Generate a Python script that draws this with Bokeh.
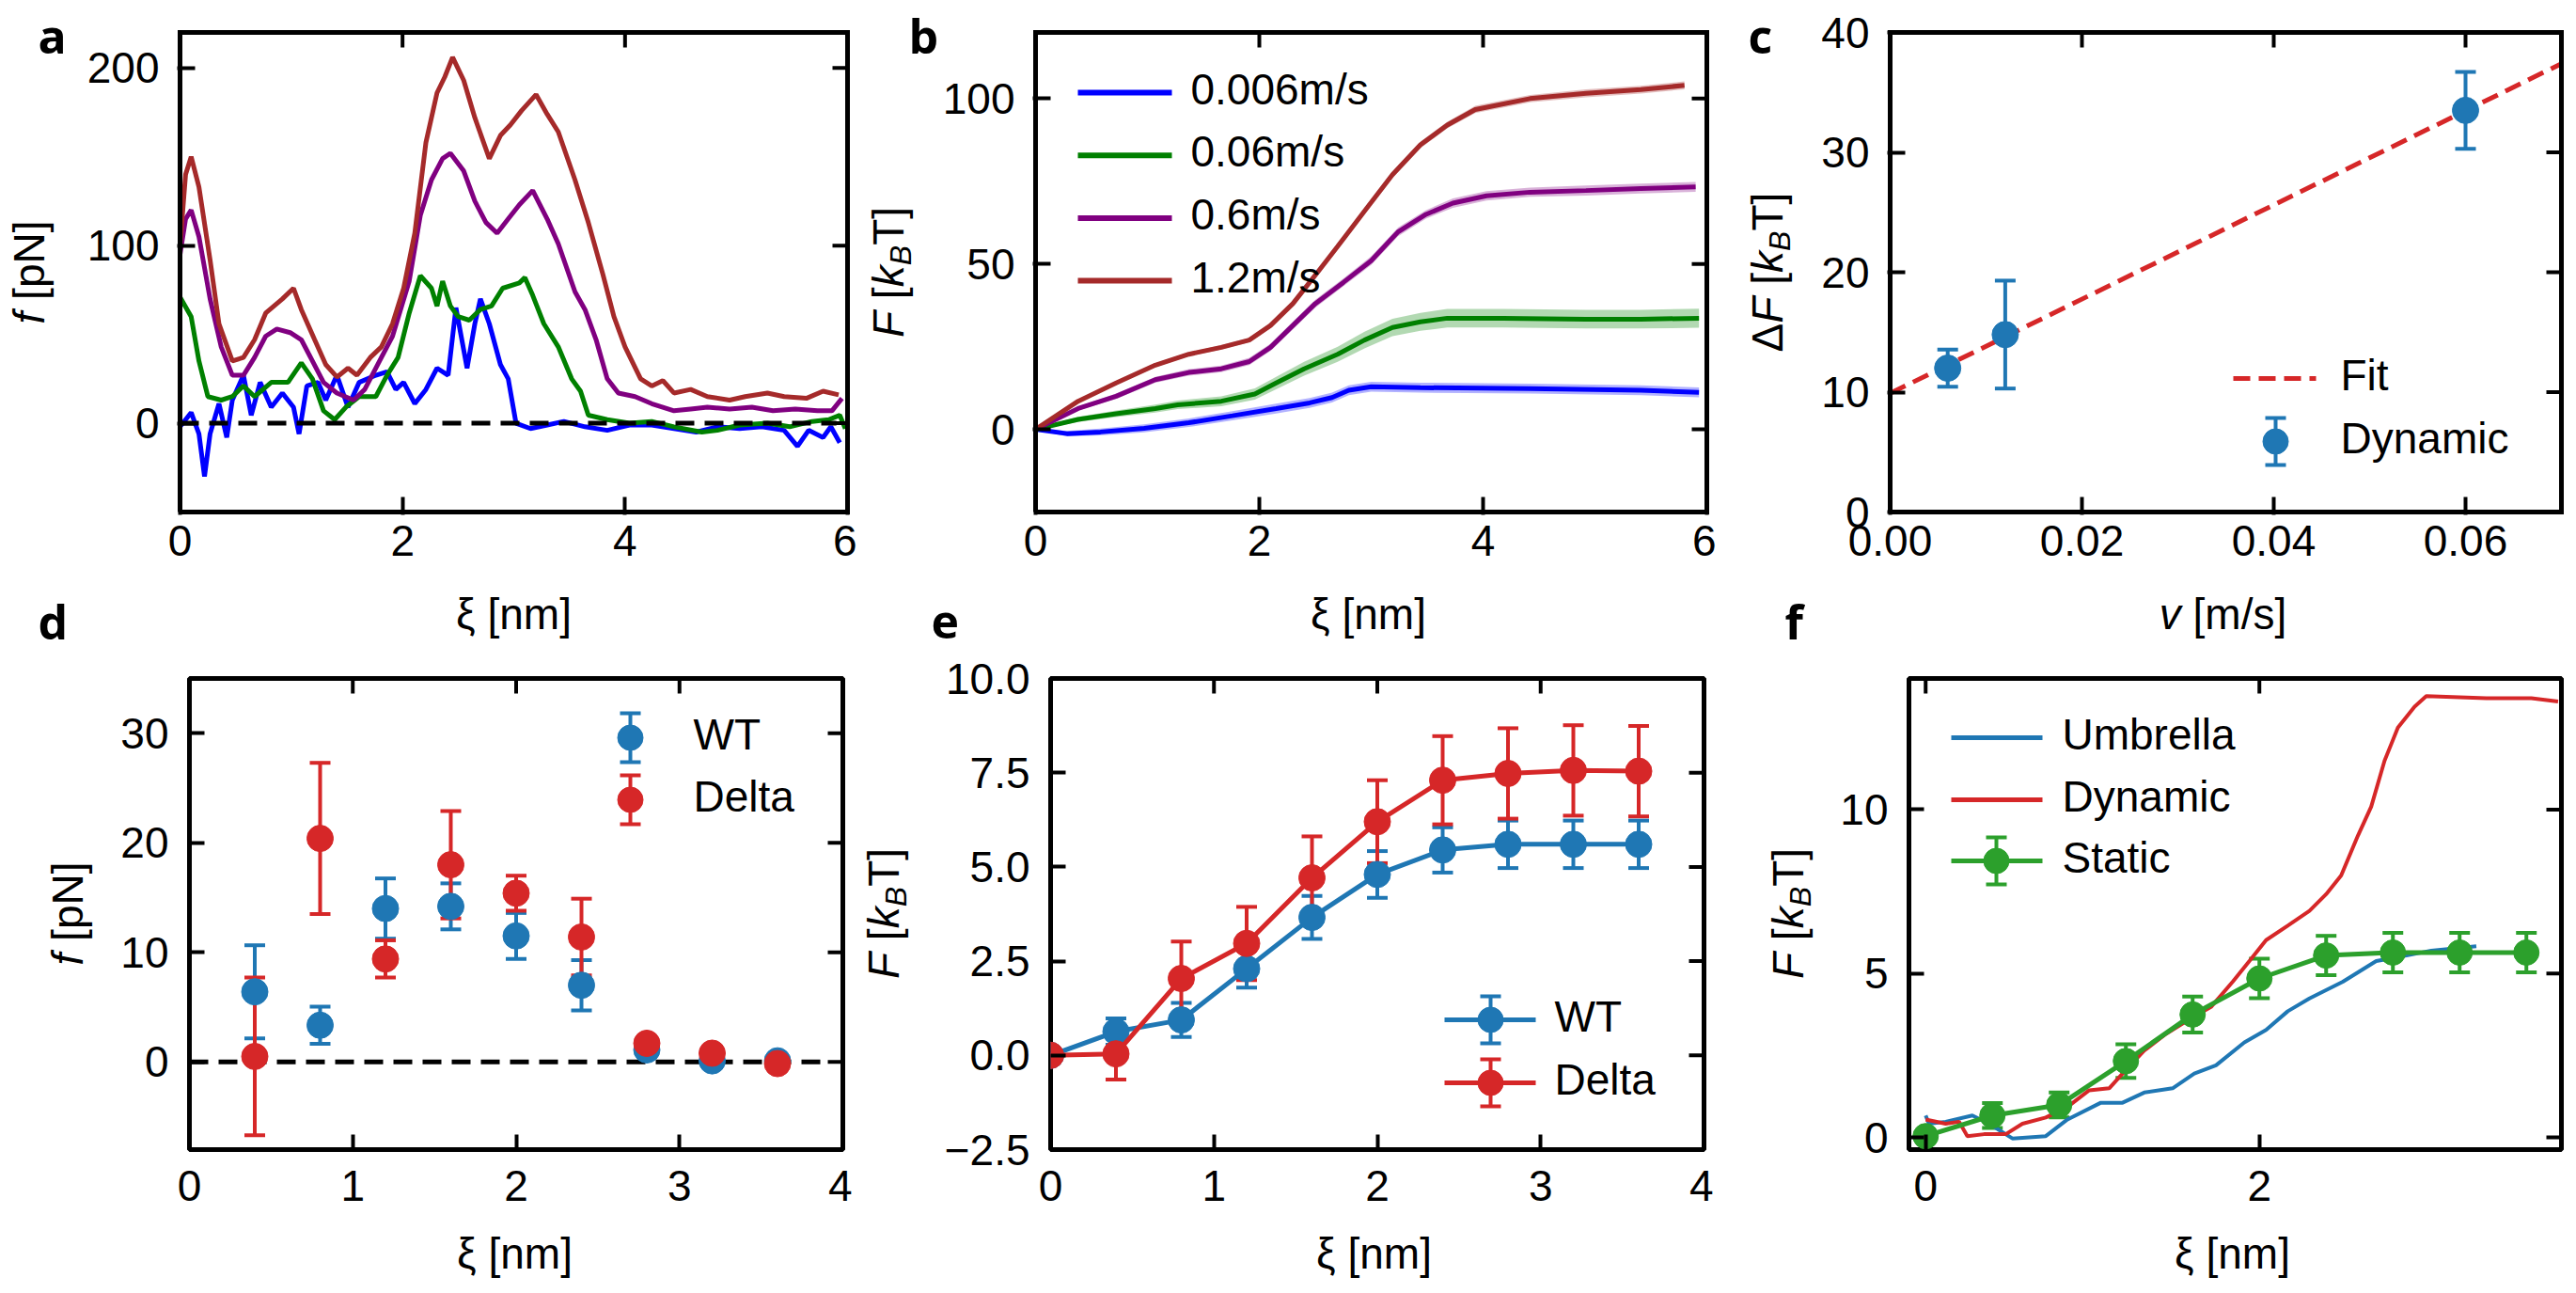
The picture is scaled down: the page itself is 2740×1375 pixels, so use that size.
import numpy as np
from bokeh.plotting import figure
from bokeh.models import (Range1d, FixedTicker, LinearAxis, Label, Whisker, TeeHead,
                          ColumnDataSource)
from bokeh.layouts import row, column
from bokeh.embed import file_html
from bokeh.resources import INLINE

FONT = "Liberation Sans"
LFONT = "Open Sans"
FS = 46

# ---------------- data ----------------
# panel a : force profiles f(xi)
a_brown_x = [0.0,0.05,0.1,0.17,0.27,0.35,0.47,0.57,0.67,0.77,0.92,1.02,1.09,1.21,1.31,1.41,1.51,1.59,1.71,1.81,
             1.91,2.01,2.11,2.21,2.31,2.38,2.45,2.55,2.65,2.78,2.88,2.97,3.07,3.20,3.30,3.40,3.55,3.67,3.80,3.90,
             4.00,4.14,4.24,4.34,4.44,4.59,4.74,4.94,5.08,5.28,5.43,5.63,5.78,5.92]
a_brown_y = [100,140,150,133,92,56,35,37,47,62,70,76,64,47,33,26,31,27,37,43,
             56,76,107,158,186,195,206,193,172,149,162,168,176,185,174,164,137,113,84,60,
             43,25,21,24,17,19,15,13,15,17,15,14,18,16]
a_purple_x = [0.0,0.05,0.1,0.17,0.27,0.37,0.47,0.57,0.67,0.77,0.87,0.99,1.09,1.19,1.29,1.41,1.56,1.66,1.81,1.91,
              2.06,2.16,2.26,2.36,2.43,2.55,2.65,2.75,2.85,2.95,3.05,3.17,3.30,3.40,3.55,3.64,3.74,3.84,3.94,4.09,
              4.24,4.44,4.59,4.74,4.94,5.14,5.33,5.53,5.73,5.86,5.95]
a_purple_y = [95,115,120,105,70,43,27,27,37,49,53,51,47,35,23,17,13,19,37,49,
              80,117,137,149,152,142,125,113,107,115,123,131,115,101,74,64,47,25,17,15,
              11,7,8,9,8,9,7,8,7,7,14]
a_green_x = [0.0,0.1,0.17,0.25,0.37,0.47,0.57,0.67,0.82,0.97,1.09,1.19,1.29,1.39,1.49,1.61,1.76,1.86,1.96,2.06,
             2.16,2.26,2.31,2.36,2.43,2.50,2.60,2.70,2.80,2.90,3.05,3.10,3.17,3.27,3.40,3.52,3.60,3.67,3.84,4.04,
             4.24,4.44,4.69,4.83,5.03,5.28,5.48,5.68,5.83,5.93,5.98]
a_green_y = [71,60,35,15,13,15,21,15,23,23,34,25,7,2,9,15,15,27,37,62,
             83,76,66,80,66,60,58,64,66,76,79,82,72,56,43,25,18,4.5,2,0,
             1,-2,-5,-4,-1,0,-2,1,2,4.5,-3]
a_blue_x = [0.0,0.1,0.17,0.22,0.27,0.35,0.42,0.47,0.57,0.64,0.72,0.82,0.92,1.02,1.07,1.14,1.24,1.31,1.41,1.51,
            1.61,1.76,1.86,1.94,2.01,2.11,2.21,2.31,2.41,2.48,2.58,2.65,2.70,2.78,2.88,2.95,3.02,3.15,3.30,3.45,
            3.64,3.84,4.04,4.24,4.44,4.64,4.83,5.03,5.23,5.43,5.55,5.65,5.78,5.85,5.93]
a_blue_y = [-2,6,-6,-30,-6,11,-8,13,27,4.5,23,9,17,9,-6,21,23,13,27,9,
            23,27,29,19,23,11,19,31,27,65,31,56,70,56,33,25,0,-3,-1,1,
            -2,-4,-1,-1,-3,-5,-2,-3,-2,-4,-13,-4,-8,-2,-11]
a_zero_x = [0.0, 5.9]
a_zero_y = [0.0, 0.0]

# panel b : free energy profiles per pulling speed
b_labels = ["0.006m/s", "0.06m/s", "0.6m/s", "1.2m/s"]
b_blue_x = [0,0.28,0.58,0.97,1.37,1.76,2.15,2.45,2.65,2.8,3.0,3.44,4.42,5.41,5.93]
b_blue_y = [0,-1.3,-0.8,0.3,2,4.1,6.3,8,9.6,11.8,12.9,12.6,12.3,11.8,11.2]
b_blue_err = [0.3,0.8,1.0,1.2,1.3,1.4,1.5,1.5,1.5,1.5,1.5,1.5,1.5,1.5,1.5]
b_green_x = [0,0.38,0.72,1.07,1.27,1.66,1.96,2.15,2.4,2.7,2.94,3.19,3.44,3.68,4.18,4.92,5.41,5.93]
b_green_y = [0,3,4.7,6.3,7.4,8.5,10.7,14,18.3,22.7,27,30.8,32.5,33.6,33.6,33.3,33.3,33.6]
b_green_err = [0.3,0.8,1.0,1.2,1.3,1.5,1.7,1.9,2.1,2.3,2.5,2.6,2.7,2.8,2.8,2.8,2.8,2.9]
b_purple_x = [0,0.38,0.72,1.07,1.37,1.66,1.91,2.1,2.3,2.5,2.75,3.0,3.24,3.49,3.73,4.03,4.42,4.92,5.41,5.9]
b_purple_y = [0,6.3,10,15,17.2,18.3,20.5,24.8,31.4,38,44.4,51,59.7,65,68.4,70.6,71.7,72.2,72.8,73.3]
b_purple_err = [0.2,0.6,0.8,0.9,1.0,1.0,1.1,1.1,1.2,1.2,1.2,1.3,1.3,1.3,1.4,1.4,1.4,1.5,1.5,1.5]
b_brown_x = [0,0.38,0.72,1.07,1.37,1.66,1.91,2.1,2.3,2.5,2.7,2.94,3.19,3.44,3.68,3.93,4.42,4.92,5.41,5.8]
b_brown_y = [0,8.5,14,19.4,22.7,24.8,27,31.4,38,46.6,55.3,66,77,86,92,96.7,100,101.6,102.7,104]
b_brown_err = [0.2,0.4,0.5,0.6,0.6,0.7,0.7,0.8,0.8,0.8,0.9,0.9,1.0,1.0,1.0,1.1,1.1,1.2,1.2,1.2]

# panel c : dissipation vs speed
c_v = [0.006, 0.012, 0.06]
c_dF = [12.0, 14.8, 33.5]
c_err = [1.55, 4.5, 3.2]
c_fit_v = [0.0, 0.07]
c_fit_dF = [9.9, 37.4]

# panel d : mean force, WT and Delta
d_x = [0.4, 0.8, 1.2, 1.6, 2.0, 2.4, 2.8, 3.2, 3.6]
d_wt = [6.4, 3.35, 14.0, 14.2, 11.5, 7.0, 1.1, 0.1, 0.1]
d_wt_err = [4.25, 1.7, 2.75, 2.1, 2.1, 2.3, 0.5, 0.3, 0.2]
d_delta = [0.5, 20.4, 9.4, 18.0, 15.4, 11.4, 1.7, 0.8, -0.15]
d_delta_err = [7.2, 6.9, 1.7, 4.9, 1.6, 3.5, 0.4, 0.3, 0.2]
d_zero_x = [0.0, 3.9]
d_zero_y = [0.0, 0.0]

# panel e : free energy, WT and Delta
e_x = [0.0, 0.4, 0.8, 1.2, 1.6, 2.0, 2.4, 2.8, 3.2, 3.6]
e_wt = [0.0, 0.63, 0.94, 2.3, 3.66, 4.8, 5.45, 5.6, 5.6, 5.6]
e_wt_err = [0.0, 0.35, 0.45, 0.5, 0.57, 0.62, 0.6, 0.63, 0.63, 0.63]
e_delta = [0.0, 0.04, 2.04, 2.97, 4.71, 6.2, 7.3, 7.48, 7.56, 7.54]
e_delta_err = [0.0, 0.68, 0.98, 0.97, 1.1, 1.1, 1.17, 1.2, 1.2, 1.2]

# panel f : umbrella / dynamic / static
f_umb_x = [0,0.02,0.12,0.28,0.38,0.52,0.72,0.85,1.05,1.18,1.31,1.48,1.61,1.74,1.91,2.04,2.17,2.30,2.50,2.70,2.83,3.03,3.30]
f_umb = [0.67,0.42,0.48,0.67,0.42,-0.03,0.04,0.55,1.06,1.06,1.37,1.5,1.95,2.2,2.9,3.28,3.85,4.24,4.75,5.38,5.5,5.7,5.83]
f_dyn_x = [0,0.12,0.2,0.25,0.35,0.48,0.58,0.72,0.85,0.98,1.10,1.18,1.31,1.44,1.58,1.71,1.84,1.94,2.04,2.17,
           2.30,2.40,2.49,2.59,2.67,2.75,2.83,2.93,3.0,3.36,3.63,3.79]
f_dyn = [0.55,0.42,0.48,0.04,0.1,0.1,0.42,0.61,0.93,1.44,1.5,1.95,2.65,3.16,3.6,3.98,4.75,5.38,6.02,6.46,
         6.91,7.42,7.99,9.2,10.09,11.49,12.5,13.14,13.46,13.4,13.4,13.3]
f_static_x = [0.0, 0.4, 0.8, 1.2, 1.6, 2.0, 2.4, 2.8, 3.2, 3.6]
f_static = [0.04, 0.67, 0.99, 2.33, 3.75, 4.85, 5.55, 5.64, 5.64, 5.64]
f_static_err = [0.15, 0.38, 0.38, 0.51, 0.55, 0.6, 0.6, 0.6, 0.6, 0.6]

BLUE, GREEN, PURPLE, BROWN = "#0000ff", "#008000", "#800080", "#a52a2a"
TBLUE, TRED, TGREEN = "#1f77b4", "#d62728", "#2ca02c"

# ---------------- helpers ----------------
W_EM = {' ': 0.278, '[': 0.278, ']': 0.278, 'F': 0.611, 'f': 0.278, 'k': 0.5, 'B': 0.667,
        'T': 0.611, 'p': 0.556, 'N': 0.722, 'Δ': 0.668, 'v': 0.5, 'm': 0.833, '/': 0.278,
        's': 0.5, 'n': 0.556}
MID = 0.3465   # centre of the text box above the baseline, in em (Liberation Sans)


def tw(t, size):
    return sum(W_EM.get(c, 0.556) for c in t) * size


def make_panel(L, T, W, H, xr, yr, xt, yt, bl, br, bt, bb, m=(0, 0, 0, 0),
               xover=None, yover=None, xstand=14, ystand=22):
    """Axes box at page (L, T, W, H); the plot frame is the box grown by margins
    m = (left, right, top, bottom) in pixels, the box itself then drawn as lines."""
    ml, mr, mt, mb = m
    (x0, x1), (y0, y1) = xr, yr
    dx, dy = (x1 - x0) / W, (y1 - y0) / H
    fxr = (x0 - ml * dx, x1 + mr * dx)
    fyr = (y0 - mb * dy, y1 + mt * dy)
    p = figure(frame_width=W + ml + mr, frame_height=H + mt + mb,
               x_range=Range1d(*fxr), y_range=Range1d(*fyr),
               x_axis_type=None, y_axis_type=None, output_backend="svg", toolbar_location=None,
               title_location=None,
               min_border_left=bl - ml, min_border_right=br - mr,
               min_border_top=bt - mt, min_border_bottom=bb - mb)
    boxed = any(m)
    if boxed:
        p.outline_line_color = None
    else:
        p.outline_line_color = "black"
        p.outline_line_width = 5
        p.outline_line_alpha = 1.0
    for loc, ticks, over, stand, extra in [("below", xt, xover, xstand, mb),
                                           ("left", yt, yover, ystand, ml)]:
        ax = LinearAxis(ticker=FixedTicker(ticks=ticks, minor_ticks=[]))
        ax.axis_line_color = None
        ax.major_tick_in = 16 + extra
        ax.major_tick_out = 0
        ax.major_tick_line_width = 4
        ax.major_tick_line_color = "black"
        ax.minor_tick_line_color = None
        ax.major_label_text_font = FONT
        ax.major_label_text_font_size = f"{FS}px"
        ax.major_label_text_color = "black"
        ax.major_label_standoff = stand - extra
        if over:
            ax.major_label_overrides = over
        p.add_layout(ax, loc)
    g = dict(L=L, T=T, W=W, H=H, xr=xr, yr=yr, xt=xt, yt=yt, boxed=boxed)
    return p, g


def finish(p, g):
    (x0, x1), (y0, y1) = g["xr"], g["yr"]
    ly = 16 / g["H"] * (y1 - y0)
    lx = 16 / g["W"] * (x1 - x0)
    xt, yt = g["xt"], g["yt"]
    p.segment(x0=xt, y0=[y1] * len(xt), x1=xt, y1=[y1 - ly] * len(xt),
              line_color="black", line_width=4)
    p.segment(x0=[x1] * len(yt), y0=yt, x1=[x1 - lx] * len(yt), y1=yt,
              line_color="black", line_width=4)
    if g["boxed"]:
        p.line([x0, x1, x1, x0, x0], [y0, y0, y1, y1, y0], line_color="black",
               line_width=5, line_join="miter")


def to_data(g, px, py):
    (x0, x1), (y0, y1) = g["xr"], g["yr"]
    return (x0 + (px - g["L"]) / g["W"] * (x1 - x0),
            y1 - (py - g["T"]) / g["H"] * (y1 - y0))


def lab(p, x, y, s, size=FS, font=FONT, style="normal", align="left"):
    p.add_layout(Label(x=x, y=y, text=s, text_font=font, text_font_size=f"{size}px",
                       text_font_style=style, text_align=align, text_baseline="middle",
                       text_color="black"))


def ptext(p, g, px, py, s, **kw):
    x, y = to_data(g, px, py - 4)
    lab(p, x, y, s, **kw)


def rich(p, x, y, pieces, vertical=False):
    """(x, y): centre of the main text box; pieces share one baseline."""
    total = sum(tw(t, FS * s) for t, it, s, sh in pieces)
    pos = -total / 2
    for t, it, s, sh in pieces:
        size = FS * s
        stripped = t.lstrip(" ")
        lead = tw(t[:len(t) - len(stripped)], size)
        down = MID * FS + sh * FS - MID * size
        if vertical:
            xo, yo, ang = down, pos + lead, np.pi / 2
        else:
            xo, yo, ang = pos + lead, -down, 0.0
        p.add_layout(Label(x=x, y=y, x_offset=xo, y_offset=yo, text=stripped, angle=ang,
                           text_align="left", text_baseline="middle", text_font=FONT,
                           text_font_size=f"{size:.1f}px",
                           text_font_style="italic" if it else "normal", text_color="black"))
        pos += tw(t, size)


def errbars(p, x, y, err, color, cap=22, lw=4):
    lo = [a - b for a, b in zip(y, err)]
    hi = [a + b for a, b in zip(y, err)]
    src = ColumnDataSource(dict(x=x, lo=lo, hi=hi))
    p.add_layout(Whisker(source=src, base="x", lower="lo", upper="hi", dimension="height",
                         line_color=color, line_width=lw,
                         upper_head=TeeHead(size=cap, line_color=color, line_width=lw),
                         lower_head=TeeHead(size=cap, line_color=color, line_width=lw)))


def leg_line(p, g, x0, x1, y, color, lw=6, dash="solid"):
    xa, ya = to_data(g, x0, y)
    xb, _ = to_data(g, x1, y)
    p.line([xa, xb], [ya, ya], line_color=color, line_width=lw, line_dash=dash)


def leg_err(p, g, x, y, half, color, size=27):
    xa, ya = to_data(g, x, y)
    _, yt = to_data(g, x, y - half)
    errbars(p, [xa], [ya], [yt - ya], color)
    p.scatter([xa], [ya], size=size, fill_color=color, line_color=color)


def strip(x0, w, h, ftop, fbot, bt, bb):
    """Text-only figure. Its frame covers page rows ftop..fbot (it gets aligned with the
    frames of the panels in the same row); data coordinates equal page pixels."""
    s = figure(width=w, height=h, x_range=Range1d(x0, x0 + w), y_range=Range1d(fbot, ftop),
               x_axis_type=None, y_axis_type=None, toolbar_location=None, title_location=None,
               min_border_left=0, min_border_right=0, min_border_top=bt, min_border_bottom=bb,
               output_backend="svg")
    s.outline_line_color = None
    return s


XI = "ξ [nm]"
FK = [("F", True, 1, 0), (" [", False, 1, 0), ("k", True, 1, 0), ("B", True, 0.7, 0.2), ("T]", False, 1, 0)]
FPN = [("f", True, 1, 0), (" [pN]", False, 1, 0)]

# ---------------- geometry (page pixels; the page has no margin) ----------------
R1T, R1H = 34, 510            # row 1 axes boxes: y 34..544
R2T, R2H = 721, 501           # row 2 axes boxes: y 721..1222
M1 = (3, 3, 34, 3)            # row 1 frames grown to y 0..547
ROW1_H = 616                  # y 0..616
BAND1_H = 82                  # y 616..698
ROW2_T = 23                   # row 2 top border: y 698..721
ROW2_H = ROW2_T + R2H + 76    # y 698..1298
BAND2_H = 77                  # y 1298..1375

# ---------------- panel a ----------------
pa, ga = make_panel(191, R1T, 710, R1H, (0, 6), (-50, 220), [0, 2, 4, 6], [0, 100, 200],
                    113, 10, 34, 72, m=M1)
for xs, ys, c in [(a_blue_x, a_blue_y, BLUE), (a_green_x, a_green_y, GREEN),
                  (a_purple_x, a_purple_y, PURPLE), (a_brown_x, a_brown_y, BROWN)]:
    pa.line(xs, ys, line_color=c, line_width=5)
pa.line(a_zero_x, a_zero_y, line_color="black", line_width=5, line_dash="20 11")
finish(pa, ga)

# ---------------- panel b ----------------
pb, gb = make_panel(1098, R1T, 714, R1H, (0, 6), (-25, 120), [0, 2, 4, 6], [0, 50, 100],
                    99, 10, 34, 72, m=M1)
b_series = [(b_blue_x, b_blue_y, b_blue_err, BLUE), (b_green_x, b_green_y, b_green_err, GREEN),
            (b_purple_x, b_purple_y, b_purple_err, PURPLE), (b_brown_x, b_brown_y, b_brown_err, BROWN)]
for xs, ys, es, c in b_series:
    pb.varea(x=xs, y1=[a - b for a, b in zip(ys, es)], y2=[a + b for a, b in zip(ys, es)],
             fill_color=c, fill_alpha=0.3)
    pb.line(xs, ys, line_color=c, line_width=5)
for i, (lb, (_, _, _, c)) in enumerate(zip(b_labels, b_series)):
    yy = 98 + 66.7 * i
    leg_line(pb, gb, 1143, 1243, yy, c)
    ptext(pb, gb, 1263, yy, lb)
finish(pb, gb)

# ---------------- panel c ----------------
pc, gc = make_panel(2007, R1T, 714, R1H, (0, 0.07), (0, 40), [0, 0.02, 0.04, 0.06],
                    [0, 10, 20, 30, 40], 77, 9, 34, 72, m=M1,
                    xover={0: "0.00", 0.02: "0.02", 0.04: "0.04", 0.06: "0.06"})
pc.line(c_fit_v, c_fit_dF, line_color=TRED, line_width=5, line_dash="18 9")
errbars(pc, c_v, c_dF, c_err, TBLUE)
pc.scatter(c_v, c_dF, size=28, fill_color=TBLUE, line_color=TBLUE)
leg_line(pc, gc, 2372, 2460, 402, TRED, lw=5, dash="18 9")
ptext(pc, gc, 2486, 402, "Fit")
leg_err(pc, gc, 2417, 469, 25, TBLUE)
ptext(pc, gc, 2486, 469, "Dynamic")
finish(pc, gc)

# ---------------- panel d ----------------
pd_, gd = make_panel(200, R2T, 695, R2H, (0, 4), (-8, 35), [0, 1, 2, 3, 4], [0, 10, 20, 30],
                     75, 10, ROW2_T, 76, xstand=22)
pd_.line(d_zero_x, d_zero_y, line_color="black", line_width=5, line_dash="20 11")
errbars(pd_, d_x, d_wt, d_wt_err, TBLUE)
pd_.scatter(d_x, d_wt, size=28, fill_color=TBLUE, line_color=TBLUE)
errbars(pd_, d_x, d_delta, d_delta_err, TRED)
pd_.scatter(d_x, d_delta, size=28, fill_color=TRED, line_color=TRED)
leg_err(pd_, gd, 669, 784, 26, TBLUE)
ptext(pd_, gd, 736, 784, "WT")
leg_err(pd_, gd, 669, 850, 26, TRED)
ptext(pd_, gd, 736, 850, "Delta")
finish(pd_, gd)

# ---------------- panel e ----------------
e_over = {-2.5: "−2.5", 0: "0.0", 2.5: "2.5", 5: "5.0", 7.5: "7.5", 10: "10.0"}
pe, ge = make_panel(1114, R2T, 695, R2H, (0, 4), (-2.5, 10), [0, 1, 2, 3, 4],
                    [-2.5, 0, 2.5, 5, 7.5, 10], 114, 10, ROW2_T, 76, yover=e_over, xstand=22)
errbars(pe, e_x, e_wt, e_wt_err, TBLUE)
pe.line(e_x, e_wt, line_color=TBLUE, line_width=5)
pe.scatter(e_x, e_wt, size=28, fill_color=TBLUE, line_color=TBLUE)
errbars(pe, e_x, e_delta, e_delta_err, TRED)
pe.line(e_x, e_delta, line_color=TRED, line_width=5)
pe.scatter(e_x, e_delta, size=28, fill_color=TRED, line_color=TRED)
leg_line(pe, ge, 1533, 1630, 1084, TBLUE, lw=5)
leg_err(pe, ge, 1582, 1084, 25, TBLUE)
ptext(pe, ge, 1650, 1084, "WT")
leg_line(pe, ge, 1533, 1630, 1151, TRED, lw=5)
leg_err(pe, ge, 1582, 1151, 25, TRED)
ptext(pe, ge, 1650, 1151, "Delta")
finish(pe, ge)

# ---------------- panel f ----------------
pf, gf = make_panel(2027, R2T, 694, R2H, (-0.1, 3.81), (-0.37, 14.0), [0, 2], [0, 5, 10],
                    77, 9, ROW2_T, 76, xstand=22)
pf.line(f_umb_x, f_umb, line_color=TBLUE, line_width=4)
pf.line(f_dyn_x, f_dyn, line_color=TRED, line_width=4)
errbars(pf, f_static_x, f_static, f_static_err, TGREEN)
pf.line(f_static_x, f_static, line_color=TGREEN, line_width=5)
pf.scatter(f_static_x, f_static, size=27, fill_color=TGREEN, line_color=TGREEN)
leg_line(pf, gf, 2072, 2169, 784, TBLUE, lw=5)
ptext(pf, gf, 2190, 784, "Umbrella")
leg_line(pf, gf, 2072, 2169, 850, TRED, lw=5)
ptext(pf, gf, 2190, 850, "Dynamic")
leg_line(pf, gf, 2072, 2169, 915, TGREEN, lw=5)
leg_err(pf, gf, 2120, 915, 25, TGREEN)
ptext(pf, gf, 2190, 915, "Static")
finish(pf, gf)

# ---------------- text strips (labels outside the axes boxes) ----------------
ylA = strip(0, 78, ROW1_H, 0, 547, 0, 69)
ylB = strip(911, 88, ROW1_H, 0, 547, 0, 69)
ylC = strip(1822, 108, ROW1_H, 0, 547, 0, 69)
ylD = strip(0, 125, ROW2_H, 721, 1222, ROW2_T, 76)
ylE = strip(905, 95, ROW2_H, 721, 1222, ROW2_T, 76)
ylF = strip(1819, 131, ROW2_H, 721, 1222, ROW2_T, 76)
band1 = strip(0, 2730, BAND1_H, 616, 698, 0, 0)
band2 = strip(0, 2730, BAND2_H, 1298, 1375, 0, 0)

# panel letters: baselines y=57 / y=680, text-box centre 0.388 em above
LS = 50
LC = 0.388 * LS
lab(ylA, 40, 57 - LC, "a", size=LS, font=LFONT, style="bold")
lab(ylB, 966, 57 - LC, "b", size=LS, font=LFONT, style="bold")
lab(ylC, 1856, 57 - LC, "c", size=LS, font=LFONT, style="bold")
lab(band1, 40, 680 - LC, "d", size=LS, font=LFONT, style="bold")
lab(band1, 990, 680 - LC, "e", size=LS, font=LFONT, style="bold")
lab(band1, 1898, 680 - LC, "f", size=LS, font=LFONT, style="bold")

# y labels, centred on the visual centres
for strp, cx, cy, pieces in [(ylA, 34, 289, FPN), (ylB, 948, 289, FK),
                             (ylC, 1880, 289, [("Δ", False, 1, 0)] + FK),
                             (ylD, 75, 971, FPN), (ylE, 942, 971, FK), (ylF, 1902, 971, FK)]:
    rich(strp, cx - 4, cy, pieces, vertical=True)

# x labels: baselines y=668 / y=1348
XC1 = 668 - MID * FS
XC2 = 1348 - MID * FS
lab(band1, 546, XC1, XI, align="center")
lab(band1, 1455, XC1, XI, align="center")
rich(band1, 2364, XC1, [("v", True, 1, 0), (" [m/s]", False, 1, 0)])
lab(band2, 547, XC2, XI, align="center")
lab(band2, 1461, XC2, XI, align="center")
lab(band2, 2374, XC2, XI, align="center")

layout = column(row(ylA, pa, ylB, pb, ylC, pc),
                band1,
                row(ylD, pd_, ylE, pe, ylF, pf),
                band2)
open("out.html", "w").write(file_html(layout, INLINE, title="figure"))
